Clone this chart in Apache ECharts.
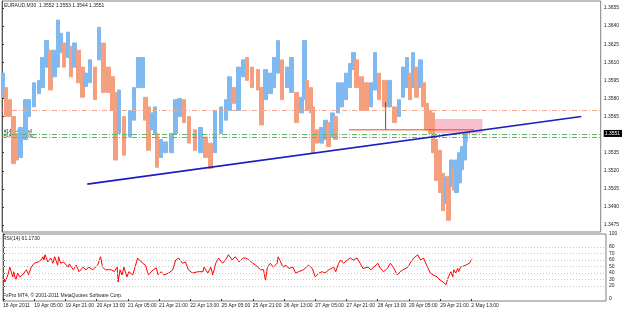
<!DOCTYPE html>
<html>
<head>
<meta charset="utf-8">
<script src="https://cdn.jsdelivr.net/npm/echarts@6/dist/echarts.min.js"></script>
<style>
  html, body { margin: 0; padding: 0; background: #fff; }
  #chart { width: 625px; height: 309px; }
</style>
</head>
<body>
<div id="chart"></div>
<script>
// EURAUD M30: each candle groups ~4 half-hour bars
const barIdx = [1,4,8,12,15,19,24,28,33,38,
  42,46,50,54,58,61,64,68,71,75,
  79,83,86,91,96,100,105,110,114,117,
  121,126,132,136,141,145,148,151,155,158,
  160,164,169,175,179,183,188,193,199,205,
  210,215,220,226,231,235,239,244,249,253,
  258,264,268,272,277,281,285,289,294,299,
  304,309,312,315,319,321,325,330,334,337,
  341,344,347,351,355,359,363,366,371,376,
  381,385,389,395,400,405,410,414,418,421,
  424,428,432,435,438,442,445,448,452,455,
  459,461,464,467,469,472,475,478,481];
const highs = [1.3601,1.3589,1.3579,1.3565,1.3551,1.3556,1.3579,1.3579,1.3593,1.3595,
  1.3614,1.3628,1.3620,1.3620,1.3645,1.3634,1.3626,1.3635,1.3623,1.3626,
  1.3620,1.3606,1.3601,1.3612,1.3606,1.3639,1.3626,1.3606,1.3598,1.3585,
  1.3587,1.3565,1.3570,1.3589,1.3614,1.3614,1.3581,1.3573,1.3568,1.3573,
  1.3551,1.3546,1.3544,1.3551,1.3579,1.3580,1.3579,1.3565,1.3554,1.3556,
  1.3548,1.3543,1.3570,1.3573,1.3579,1.3598,1.3589,1.3606,1.3612,1.3614,
  1.3606,1.3604,1.3589,1.3604,1.3601,1.3614,1.3628,1.3612,1.3606,1.3614,
  1.3585,1.3581,1.3628,1.3595,1.3589,1.3573,1.3554,1.3556,1.3562,1.3560,
  1.3568,1.3565,1.3593,1.3593,1.3601,1.3609,1.3618,1.3612,1.3598,1.3593,
  1.3593,1.3618,1.3601,1.3595,1.3595,1.3573,1.3579,1.3606,1.3614,1.3601,
  1.3618,1.3606,1.3612,1.3593,1.3576,1.3570,1.3568,1.3546,1.3537,1.3518,
  1.3515,1.3515,1.3529,1.3523,1.3529,1.3535,1.3540,1.3551,1.3553];
const lows = [1.3581,1.3565,1.3565,1.3526,1.3529,1.3531,1.3546,1.3565,1.3573,1.3584,
  1.3589,1.3606,1.3587,1.3598,1.3606,1.3618,1.3606,1.3614,1.3598,1.3606,
  1.3593,1.3581,1.3590,1.3593,1.3579,1.3612,1.3585,1.3585,1.3570,1.3529,
  1.3551,1.3533,1.3548,1.3562,1.3589,1.3589,1.3562,1.3537,1.3554,1.3551,
  1.3523,1.3531,1.3535,1.3535,1.3551,1.3565,1.3560,1.3543,1.3537,1.3535,
  1.3531,1.3522,1.3535,1.3551,1.3562,1.3570,1.3576,1.3570,1.3598,1.3595,
  1.3589,1.3587,1.3558,1.3579,1.3584,1.3589,1.3601,1.3579,1.3589,1.3585,
  1.3560,1.3568,1.3579,1.3570,1.3568,1.3535,1.3543,1.3543,1.3546,1.3540,
  1.3548,1.3546,1.3568,1.3573,1.3579,1.3589,1.3604,1.3589,1.3570,1.3570,
  1.3573,1.3587,1.3579,1.3573,1.3573,1.3560,1.3565,1.3581,1.3589,1.3579,
  1.3589,1.3581,1.3589,1.3573,1.3554,1.3551,1.3535,1.3512,1.3502,1.3487,
  1.3493,1.3479,1.3507,1.3504,1.3502,1.3510,1.3521,1.3529,1.3544];
const lastBar = { open: 1.3552, high: 1.3553, low: 1.3544, close: 1.3551 };

const rsiIdx = [0,2,5,7,10,11,13,15,17,20,24,26,29,32,36,39,41,42,43,46,
  49,51,53,56,57,59,62,67,68,72,75,78,82,85,88,92,97,100,102,105,
  111,114,117,118,120,122,124,127,129,133,138,139,143,146,149,154,157,159,162,165,
  170,174,177,180,184,187,190,194,200,205,206,210,213,215,218,221,225,228,231,235,
  238,242,246,249,252,256,259,264,267,269,271,274,277,281,282,287,290,293,297,300,
  303,308,310,313,317,320,324,327,330,334,339,341,344,346,349,353,356,359,363,366,
  369,374,377,380,384,387,390,394,397,400,404,407,410,415,418,421,425,428,431,435,
  438,441,445,448,451,454,456,459,461,462,464,466,467,469,471,474,476,478,479,480,481];
const rsiVal = [34,26,37,49,34,42,29,40,34,37,45,37,49,55,57,60,65,60,68,57,
  63,55,65,52,65,55,57,49,54,45,52,42,49,45,49,45,52,65,49,45,
  45,42,49,26,45,37,49,34,42,37,63,65,55,52,37,45,48,37,42,37,
  40,45,60,63,55,57,45,40,42,42,49,40,49,37,55,63,55,60,68,60,
  65,57,63,63,60,55,52,45,45,29,49,55,49,55,65,49,52,47,49,40,
  42,45,45,52,47,34,40,42,40,45,49,42,55,60,55,60,63,60,63,55,
  47,49,45,49,55,47,42,47,55,49,37,42,45,49,57,63,68,60,63,49,
  40,37,34,29,26,22,32,42,34,45,40,47,42,49,47,52,49,55,52,60,61.17];
const rsiLevels = [20, 30, 40, 50, 60, 70, 80];
const rsiTicks = [0, 20, 30, 40, 50, 60, 70, 80, 100];

const priceTicks = [1.3475,1.3490,1.3505,1.3520,1.3535,1.3565,1.3580,1.3595,1.3610,1.3625,1.3640,1.3655];
const tickBars = [0,32,64,96,128,160,192,224,256,288,320,352,384,416,448,480];
const xLabels = ["18 Apr 2011","19 Apr 05:00","19 Apr 21:00","20 Apr 13:00","21 Apr 05:00","21 Apr 21:00",
  "22 Apr 13:00","25 Apr 05:00","25 Apr 21:00","26 Apr 13:00","27 Apr 05:00","27 Apr 21:00",
  "28 Apr 13:00","29 Apr 05:00","29 Apr 21:00","2 May 13:00"];

// objects drawn on the chart
const trendBars = [88, 598];
const trendPrices = [1.3509, 1.3565];
const hLineBars = [358, 487];
const hLinePrice = 1.3554;
const vLineBar = 396;
const vLinePrices = [1.3577, 1.3554];
const boxBars = [444, 496];
const boxPrices = [1.3563, 1.3551];
const pinkLevel = 1.3570;
const greenLevels = [1.35505, 1.3548];

const BLUE = '#80b8f0';
const SALMON = '#f4a07e';

const candles = barIdx.map(function (b, i) {
  if (i === barIdx.length - 1) return [b, lastBar.open, lastBar.close, lastBar.low, lastBar.high];
  const mid = (highs[i] + lows[i]) / 2;
  const prev = i > 0 ? (highs[i - 1] + lows[i - 1]) / 2 : mid;
  return mid >= prev ? [b, lows[i], highs[i], lows[i], highs[i]] : [b, highs[i], lows[i], lows[i], highs[i]];
});

const font = 'Liberation Sans';
const dashDot = [5, 2, 1, 2];

const chart = echarts.init(document.getElementById('chart'), null, { renderer: 'canvas' });
chart.setOption({
  animation: false,
  backgroundColor: '#fff',
  textStyle: { fontFamily: font, fontSize: 5 },
  grid: [
    { left: 2, right: 19, top: 1, height: 231, show: true, borderColor: '#808080', borderWidth: 1 },
    { left: 2, right: 19, top: 234, height: 67, show: true, borderColor: '#808080', borderWidth: 1 }
  ],
  xAxis: [
    { type: 'value', gridIndex: 0, min: 0, max: 618, show: false },
    {
      type: 'value', gridIndex: 1, min: 0, max: 618,
      axisLine: { show: false }, splitLine: { show: false },
      axisTick: { show: true, customValues: tickBars, length: 2, lineStyle: { color: '#333' } },
      axisLabel: {
        customValues: tickBars, align: 'left', margin: 2, fontSize: 5, color: '#222', fontFamily: font,
        formatter: function (v) { return xLabels[tickBars.indexOf(v)] || ''; }
      }
    }
  ],
  yAxis: [
    {
      type: 'value', gridIndex: 0, position: 'right', min: 1.34693, max: 1.36608,
      splitLine: { show: false },
      axisLine: { show: true, lineStyle: { color: '#555' } },
      axisTick: { show: true, customValues: priceTicks, length: 2, lineStyle: { color: '#333' } },
      axisLabel: {
        customValues: priceTicks.concat([lastBar.close]), margin: 3, fontSize: 5, color: '#222', fontFamily: font,
        formatter: function (v) {
          return v === lastBar.close ? '{box|' + v.toFixed(4) + '}' : v.toFixed(4);
        },
        rich: { box: { backgroundColor: '#000', color: '#fff', fontSize: 5, padding: [1, 2, 1, 1] } }
      }
    },
    {
      type: 'value', gridIndex: 1, position: 'right', min: -3.1, max: 100,
      splitLine: { show: false },
      axisLine: { show: true, lineStyle: { color: '#555' } },
      axisTick: { show: true, customValues: rsiTicks, length: 2, lineStyle: { color: '#333' } },
      axisLabel: { customValues: rsiTicks, margin: 3, fontSize: 5, color: '#222', fontFamily: font }
    }
  ],
  series: [
    {
      // pink box and order levels behind the bars
      type: 'line', xAxisIndex: 0, yAxisIndex: 0, z: 1, silent: true,
      data: [[boxBars[0], boxPrices[0]], [boxBars[1], boxPrices[1]]],
      showSymbol: false, lineStyle: { width: 0, opacity: 0 },
      markArea: {
        silent: true,
        itemStyle: { color: 'rgba(248,170,190,0.75)' },
        data: [[{ coord: [boxBars[0], boxPrices[0]] }, { coord: [boxBars[1], boxPrices[1]] }]]
      },
      markLine: {
        silent: true, symbol: 'none', label: { show: false }, precision: 6,
        data: [
          { yAxis: pinkLevel, lineStyle: { color: '#f2a890', width: 1, type: dashDot } },
          { yAxis: greenLevels[0], lineStyle: { color: '#5cb85c', width: 1, type: dashDot } },
          { yAxis: greenLevels[1], lineStyle: { color: '#5cb85c', width: 1, type: dashDot } }
        ]
      }
    },
    {
      type: 'candlestick', xAxisIndex: 0, yAxisIndex: 0, z: 2,
      data: candles, encode: { x: 0, y: [1, 2, 3, 4] },
      barWidth: 4,
      itemStyle: { color: BLUE, color0: SALMON, borderColor: BLUE, borderColor0: SALMON, borderWidth: 1 }
    },
    {
      type: 'line', xAxisIndex: 0, yAxisIndex: 0, z: 4, silent: true,
      data: [[hLineBars[0], hLinePrice], [hLineBars[1], hLinePrice]],
      showSymbol: false, lineStyle: { color: '#e8491d', width: 1 }
    },
    {
      type: 'line', xAxisIndex: 0, yAxisIndex: 0, z: 4, silent: true,
      data: [[vLineBar, vLinePrices[0]], [vLineBar, vLinePrices[1]]],
      showSymbol: false, lineStyle: { color: '#555', width: 1 }
    },
    {
      type: 'line', xAxisIndex: 0, yAxisIndex: 0, z: 5, silent: true,
      data: [[trendBars[0], trendPrices[0]], [trendBars[1], trendPrices[1]]],
      showSymbol: false, lineStyle: { color: '#1c1cc0', width: 1.6 }
    },
    {
      type: 'line', xAxisIndex: 1, yAxisIndex: 1, z: 3,
      data: rsiIdx.map(function (b, i) { return [b, rsiVal[i]]; }),
      showSymbol: false, lineStyle: { color: '#ff0000', width: 1 },
      markLine: {
        silent: true, symbol: 'none', label: { show: false },
        lineStyle: { color: '#c8c8c8', width: 1, type: [1, 2] },
        data: rsiLevels.map(function (v) { return { yAxis: v }; })
      }
    }
  ],
  graphic: [
    { type: 'text', left: 4, top: 3, style: { text: 'EURAUD,M30  1.3552 1.3553 1.3544 1.3551', font: '5px ' + font, fill: '#222' } },
    { type: 'text', left: 4, top: 129, style: { text: '#1464434 sell', font: '4.5px ' + font, fill: '#333' } },
    { type: 'text', left: 4, top: 133, style: { text: '#1464434 sl/tp', font: '4.5px ' + font, fill: '#333' } },
    { type: 'text', left: 3, top: 236, style: { text: 'RSI(14) 61.1730', font: '5px ' + font, fill: '#222' } },
    { type: 'text', left: 3, top: 293, style: { text: 'FxPro MT4, \u00a9 2001-2011 MetaQuotes Software Corp.', font: '5px ' + font, fill: '#222' } }
  ]
});
</script>
</body>
</html>
